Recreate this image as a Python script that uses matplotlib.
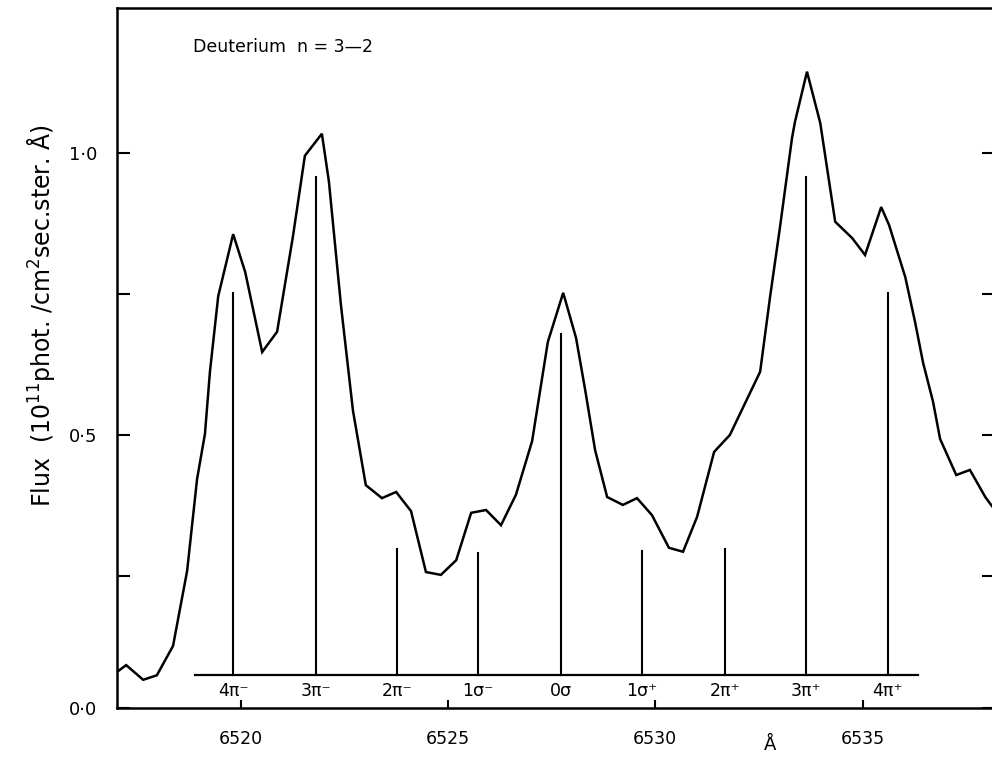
import matplotlib
matplotlib.use('Agg')
from matplotlib import pyplot as plt
from matplotlib import font_manager

# measured profile (wavelength in A, flux in 1e11 phot/cm2 sec ster A)
wavelength = [6517.02, 6517.24, 6517.65, 6517.98, 6518.37, 6518.71, 6518.95, 6519.14,
              6519.26, 6519.46, 6519.82, 6520.11, 6520.52, 6520.88, 6521.26, 6521.55,
              6521.96, 6522.13, 6522.42, 6522.71, 6523.02, 6523.41, 6523.75, 6524.11,
              6524.47, 6524.83, 6525.20, 6525.56, 6525.92, 6526.28, 6526.64, 6527.03,
              6527.41, 6527.78, 6528.09, 6528.31, 6528.55, 6528.84, 6529.22, 6529.56,
              6529.92, 6530.33, 6530.67, 6531.01, 6531.42, 6531.80, 6532.53, 6532.77,
              6533.01, 6533.30, 6533.37, 6533.66, 6533.98, 6534.34, 6534.75, 6535.06,
              6535.45, 6535.64, 6536.03, 6536.27, 6536.46, 6536.70, 6536.87, 6537.26,
              6537.59, 6537.96, 6538.12]
flux = [0.080, 0.092, 0.066, 0.074, 0.126, 0.259, 0.422, 0.502,
        0.612, 0.746, 0.856, 0.789, 0.647, 0.683, 0.851, 0.995,
        1.034, 0.949, 0.730, 0.543, 0.411, 0.388, 0.399, 0.365,
        0.257, 0.252, 0.278, 0.362, 0.367, 0.340, 0.394, 0.489,
        0.665, 0.752, 0.672, 0.580, 0.473, 0.390, 0.376, 0.388,
        0.358, 0.300, 0.293, 0.355, 0.470, 0.500, 0.612, 0.745,
        0.869, 1.027, 1.055, 1.144, 1.053, 0.878, 0.849, 0.819,
        0.904, 0.872, 0.780, 0.699, 0.628, 0.559, 0.493, 0.429,
        0.438, 0.390, 0.374]

# Stark components
comp_labels = ['4π⁻', '3π⁻', '2π⁻', '1σ⁻', '0σ', '1σ⁺', '2π⁺', '3π⁺', '4π⁺']
comp_pos = [6519.82, 6521.82, 6523.78, 6525.73, 6527.73, 6529.68, 6531.68, 6533.63, 6535.61]
comp_top = [0.752, 0.957, 0.298, 0.291, 0.679, 0.294, 0.298, 0.957, 0.752]
comp_base = 0.0745
comp_range = [6518.90, 6536.34]

xticks = [6520, 6525, 6530, 6535]
yticks = [0.016, 0.25, 0.5, 0.75, 1.0]
ytick_labels = ['0·0', '', '0·5', '', '1·0']

names = {f.name for f in font_manager.fontManager.ttflist}
family = 'DejaVu Sans'
for cand in ['DejaVu Sans Condensed', 'Liberation Sans Narrow']:
    if cand in names:
        family = cand
        break
plt.rcParams['font.family'] = family
plt.rcParams['mathtext.fontset'] = 'dejavusans'

fig = plt.figure(figsize=(9.92, 7.77), dpi=100)
ax = fig.add_axes([0.118, 0.0888, 0.884, 0.901])

ax.plot(wavelength, flux, color='black', lw=1.8, solid_joinstyle='miter')

# component sticks on their own baseline
ax.plot(comp_range, [comp_base, comp_base], color='black', lw=1.6)
for pos, top, lab in zip(comp_pos, comp_top, comp_labels):
    ax.plot([pos, pos], [comp_base, top], color='black', lw=1.5)
    ax.text(pos, 0.047, lab, ha='center', va='center', fontsize=12.5)

ax.text(0.087, 0.944, 'Deuterium  n = 3—2', transform=ax.transAxes,
        ha='left', va='center', fontsize=12.5)

ax.set_xlim(6517.02, 6538.17)
ax.set_ylim(0.016, 1.257)
ax.set_xticks(xticks)
ax.set_xticklabels([str(t) for t in xticks], fontsize=12.5)
ax.set_yticks(yticks)
ax.set_yticklabels(ytick_labels, fontsize=13)
ax.tick_params(axis='y', direction='in', length=9, width=1.5, right=True, pad=14)
ax.tick_params(axis='x', direction='in', length=6, width=1.5, pad=16)

ax.set_ylabel('Flux  (10$^{11}$phot. /cm$^{2}$sec.ster. Å)', fontsize=17)
ax.yaxis.set_label_coords(-0.068, 0.56)
ax.set_xlabel('Å', fontsize=13)
ax.xaxis.set_label_coords(0.745, -0.04)

for side in ['left', 'bottom', 'top', 'right']:
    ax.spines[side].set_linewidth(1.8)

fig.savefig('out.png', dpi=100)
